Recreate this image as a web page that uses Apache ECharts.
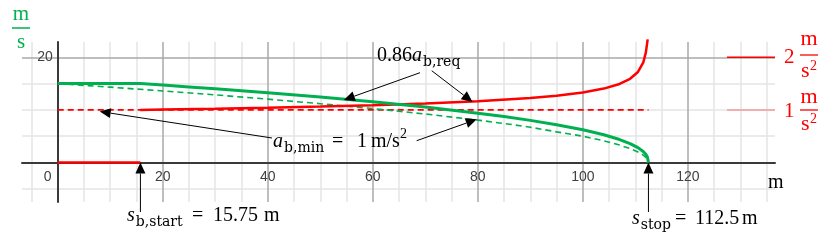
<!DOCTYPE html>
<html><head><meta charset="utf-8">
<script src="https://cdn.jsdelivr.net/npm/echarts@6/dist/echarts.min.js"></script>
<style>html,body{margin:0;padding:0;background:#fff}#c{width:830px;height:241px}</style>
</head><body><div id="c"></div>
<script>
// ---- data ----
const xTicks = [0, 20, 40, 60, 80, 100, 120];
const yTicks = [20];
const minorX = [-5, 5, 10, 15, 25, 30, 35, 45, 50, 55, 65, 70, 75, 85, 90, 95, 105, 110, 115, 125, 130, 135];
const majorX = [20, 40, 60, 80, 100, 120];
const minorY = [-5, 5, 10, 15];
const majorY = [20];

// speed with braking 0.86 a_b,req  [m] -> [m/s]
const sGreen = [0, 15.75, 20, 25, 30, 40, 50, 60, 70, 80, 85, 90, 95, 100, 104, 107, 109, 110.5, 111.5, 112, 112.3, 112.5];
const vGreen = [15, 15, 14.71, 14.37, 14.01, 13.25, 12.43, 11.53, 10.53, 9.38, 8.73, 8.01, 7.19, 6.22, 5.27, 4.37, 3.60, 2.83, 2.10, 1.56, 1.05, 0];
// speed with a_b,min = 1 m/s^2
const sDash = [0, 5, 10, 20, 30, 40, 50, 60, 70, 80, 85, 90, 95, 100, 104, 107, 109, 110.5, 111.5, 112, 112.3, 112.5];
const vDash = [15, 14.66, 14.32, 13.60, 12.85, 12.04, 11.18, 10.25, 9.22, 8.06, 7.42, 6.71, 5.83, 5.0, 4.12, 3.32, 2.65, 2.0, 1.41, 1.0, 0.63, 0];
// deceleration [m/s^2]
const sRedOff = [0, 15.75];
const aRedOff = [0, 0];
const sRed = [15.75, 20, 30, 40, 50, 60, 70, 80, 90, 95, 100, 104, 107, 109, 110.5, 111.5, 112, 112.35];
const aRed = [1.000, 1.006, 1.022, 1.041, 1.063, 1.089, 1.122, 1.165, 1.226, 1.270, 1.331, 1.405, 1.493, 1.591, 1.721, 1.896, 2.089, 2.34];
const sMinDec = [0, 112.5];
const aMinDec = [1, 1];

const GREEN = '#00b050', RED = '#ff0000';
const pairs = (a, b) => a.map((v, i) => [v, b[i]]);

const gridLines = [];
minorX.forEach(v => gridLines.push({xAxis: v, lineStyle: {color: '#e4e4e4', width: 1.5, type: 'solid'}}));
minorY.forEach(v => gridLines.push({yAxis: v, lineStyle: {color: '#e4e4e4', width: 1.5, type: 'solid'}}));
majorX.forEach(v => gridLines.push({xAxis: v, lineStyle: {color: '#a8a8a8', width: 1.5, type: 'solid'}}));
majorY.forEach(v => gridLines.push({yAxis: v, lineStyle: {color: '#a8a8a8', width: 1.5, type: 'solid'}}));

const X_MIN = -6.8, X_MAX = 136.6, Y_MIN = -7.5, Y_MAX = 22.9;
const GL = 22, GR = 55, GT = 42, GB = 39;
const plotW = 830 - GL - GR, plotH = 241 - GT - GB;
// move the axes onto the zero lines (labels follow the axis line)
const xOff = -plotH * (0 - Y_MIN) / (Y_MAX - Y_MIN);
const yOff = -plotW * (0 - X_MIN) / (X_MAX - X_MIN);

const chart = echarts.init(document.getElementById('c'), null, {renderer: 'canvas'});
const option = {
  animation: false,
  grid: {left: GL, right: GR, top: GT, bottom: GB, containLabel: false, outerBoundsMode: 'none'},
  xAxis: {type: 'value', min: X_MIN, max: X_MAX, z: 2, offset: xOff,
    axisLine: {onZero: false, lineStyle: {color: '#3a3a3a', width: 2}},
    axisTick: {show: false}, splitLine: {show: false},
    axisLabel: {customValues: xTicks, margin: 8, color: '#404040', fontSize: 14, fontFamily: 'Liberation Sans',
      formatter: v => v === 0 ? '{z|0}' : String(v),
      rich: {z: {padding: [0, 20, 0, 0], color: '#404040', fontSize: 14, fontFamily: 'Liberation Sans'}}}},
  yAxis: [
    {type: 'value', min: Y_MIN, max: Y_MAX, z: 2, offset: yOff,
      axisLine: {onZero: false, lineStyle: {color: '#3a3a3a', width: 2}},
      axisTick: {show: false}, splitLine: {show: false},
      axisLabel: {customValues: yTicks, margin: 5, color: '#404040', fontSize: 14, fontFamily: 'Liberation Sans'}},
    {type: 'value', min: Y_MIN / 10, max: Y_MAX / 10, show: false, splitLine: {show: false}}
  ],
  series: [
    {type: 'line', data: [], z: 0, silent: true,
      markLine: {z: 0, silent: true, symbol: ['none', 'none'], label: {show: false}, animation: false, data: gridLines}},
    {type: 'line', yAxisIndex: 1, data: pairs(sMinDec, aMinDec), symbol: 'none', z: 3,
      lineStyle: {color: RED, width: 1.8, type: [6, 4]}},
    {type: 'line', data: pairs(sDash, vDash), symbol: 'none', z: 3,
      lineStyle: {color: GREEN, width: 1.6, type: [6, 4]}},
    {type: 'line', yAxisIndex: 1, data: pairs(sRedOff, aRedOff), symbol: 'none', z: 4,
      lineStyle: {color: RED, width: 2.5}},
    {type: 'line', yAxisIndex: 1, data: pairs(sRed, aRed), symbol: 'none', z: 4, clip: false,
      lineStyle: {color: RED, width: 2.5}},
    {type: 'line', data: pairs(sGreen, vGreen), symbol: 'none', z: 5,
      lineStyle: {color: GREEN, width: 3}}
  ]
};
chart.setOption(option);

// ---- annotations ----
const P = (x, y) => chart.convertToPixel({xAxisIndex: 0, yAxisIndex: 0}, [x, y]);
const ctx = document.createElement('canvas').getContext('2d');
const SERIF = 'Liberation Serif', SUBF = 'DejaVu Serif';
function fontStr(p) { return (p.it ? 'italic ' : '') + p.sz + 'px "' + (p.ff || SERIF) + '"'; }
function mathText(x0, base, pieces, color) {
  let x = x0; const out = [];
  pieces.forEach(p => {
    if (p.x !== undefined) x = p.x;
    ctx.font = fontStr(p);
    const w = ctx.measureText(p.t).width;
    out.push({type: 'text', x: x, y: base + (p.dy || 0) - 0.27 * p.sz, z: 20, silent: true,
      style: {text: p.t, fontSize: p.sz, fontFamily: p.ff || SERIF, fontStyle: p.it ? 'italic' : 'normal',
        fill: color || '#000', align: p.center ? 'center' : 'left', verticalAlign: 'middle',
        textAlign: p.center ? 'center' : 'left', textVerticalAlign: 'middle'}});
    x += w + (p.gap || 0);
  });
  return out;
}
function arrow(tail, tip, headLen, headW) {
  headLen = headLen || 11; headW = headW || 10;
  const dx = tip[0] - tail[0], dy = tip[1] - tail[1], L = Math.hypot(dx, dy);
  const ux = dx / L, uy = dy / L;
  const bx = tip[0] - ux * headLen, by = tip[1] - uy * headLen;
  const px = -uy * headW / 2, py = ux * headW / 2;
  return [
    {type: 'line', z: 20, silent: true, shape: {x1: tail[0], y1: tail[1], x2: bx, y2: by}, style: {stroke: '#000', lineWidth: 1}},
    {type: 'polygon', z: 20, silent: true, shape: {points: [[tip[0], tip[1]], [bx + px, by + py], [bx - px, by - py]]}, style: {fill: '#000'}}
  ];
}
function hline(x1, x2, y, color, w) {
  return {type: 'line', z: 20, silent: true, shape: {x1: x1, y1: y, x2: x2, y2: y}, style: {stroke: color, lineWidth: w || 1.5}};
}

const g = [];
g.push(...arrow([420, 72.7], P(54.5, 11.9)));
g.push(...arrow([431.7, 70.7], P(79, 11.5)));
g.push(...arrow([272, 138], P(8, 9.7)));
g.push(...arrow([416.7, 140.7], P(79.8, 8.2)));
const t1 = P(15.75, 0), t2 = P(112.5, 0);
g.push(...arrow([t1[0], 212], t1, 11, 10));
g.push(...arrow([t2[0], 212], t2, 11, 10));

g.push(...mathText(377, 61, [
  {t: '0.86', sz: 20}, {t: 'a', sz: 20, it: true, gap: 1}, {t: 'b,req', sz: 14, ff: SUBF, dy: 5}]));
g.push(...mathText(273, 147, [
  {t: 'a', sz: 20, it: true, gap: 1}, {t: 'b,min', sz: 14, ff: SUBF, dy: 5},
  {t: '=', sz: 20, x: 332}, {t: '1', sz: 20, x: 357}, {t: 'm/s', sz: 20, x: 371}, {t: '2', sz: 14, dy: -9}]));
g.push(...mathText(127, 221.5, [
  {t: 's', sz: 20, it: true, gap: 1}, {t: 'b,start', sz: 14, ff: SUBF, dy: 5},
  {t: '=', sz: 20, x: 192}, {t: '15.75', sz: 20, x: 213}, {t: 'm', sz: 20, x: 264}]));
g.push(...mathText(632, 224, [
  {t: 's', sz: 20, it: true, gap: 1}, {t: 'stop', sz: 14, ff: SUBF, dy: 5},
  {t: '=', sz: 20, x: 675}, {t: '112.5', sz: 20, x: 695}, {t: 'm', sz: 20, x: 742}]));
g.push(...mathText(768, 188, [{t: 'm', sz: 20}]));
g.push(...mathText(21, 20, [{t: 'm', sz: 21, center: true}], GREEN));
g.push(hline(12, 30, 28, GREEN, 1.5));
g.push(...mathText(21, 48, [{t: 's', sz: 21, center: true}], GREEN));

const y2 = P(0, 20)[1], y1 = P(0, 10)[1];
g.push(hline(727, 775, y2, RED, 1.5));
g.push(...mathText(784, 63, [{t: '2', sz: 21}], RED));
g.push(...mathText(809, 45, [{t: 'm', sz: 22, center: true}], RED));
g.push(hline(800, 818, 55, RED, 1.3));
g.push(...mathText(801, 77, [{t: 's', sz: 22}], RED));
g.push(...mathText(810, 70, [{t: '2', sz: 14}], RED));

g.push(hline(727, 775, y1, '#f59a9a', 1.5));
g.push(...mathText(784, 117, [{t: '1', sz: 21}], RED));
g.push(...mathText(809, 103, [{t: 'm', sz: 22, center: true}], RED));
g.push(hline(800, 818, 110, RED, 1.3));
g.push(...mathText(801, 130, [{t: 's', sz: 22}], RED));
g.push(...mathText(810, 123, [{t: '2', sz: 14}], RED));

chart.setOption({graphic: {elements: g}});
</script>
</body></html>
